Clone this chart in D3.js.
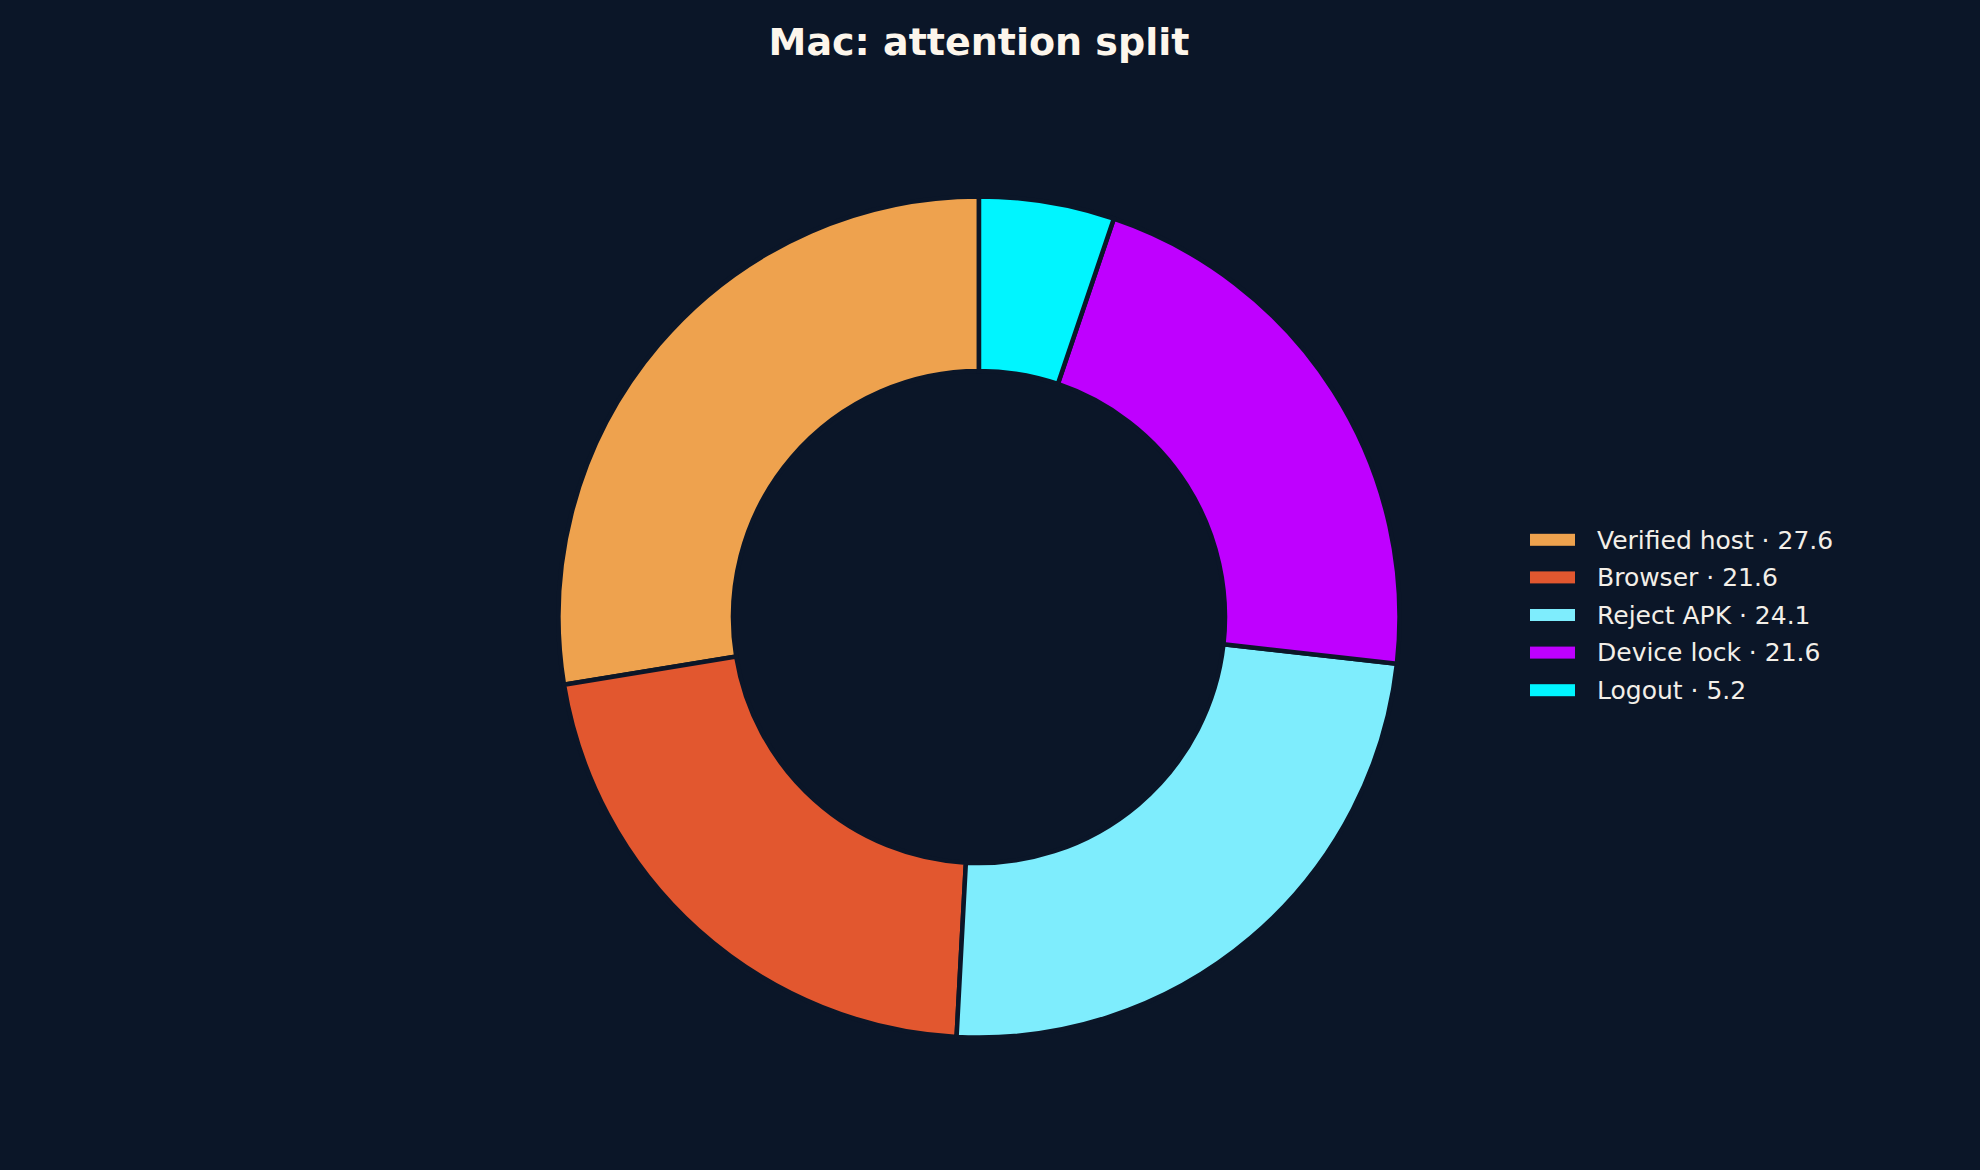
<!DOCTYPE html>
<html><head><meta charset="utf-8">
<script src="https://cdn.jsdelivr.net/npm/d3@7"></script>
<style>html,body{margin:0;padding:0;background:#0b1628;}svg{display:block;}</style>
</head><body>
<script>
const categories = ["Verified host", "Browser", "Reject APK", "Device lock", "Logout"];
const values = [27.6, 21.6, 24.1, 21.6, 5.2];
const colors = ["#eea24e", "#e2572f", "#7eedfd", "#bf00ff", "#00f5ff"];
const title = "Mac: attention split";

const W = 1980, H = 1170;
const svg = d3.select("body").append("svg").attr("width", W).attr("height", H);
svg.append("rect").attr("width", W).attr("height", H).attr("fill", "#0b1628");

svg.append("text").attr("x", 979).attr("y", 55).attr("text-anchor", "middle")
  .attr("font-family", "DejaVu Sans").attr("font-weight", "bold").attr("font-size", 38)
  .attr("fill", "#fdf6ec").text(title);

const cx = 979, cy = 617, R = 420.5, r = 246;
const data = categories.map((c, i) => ({c, v: values[i], col: colors[i]}));
const pie = d3.pie().value(d => d.v).sort(null).startAngle(0).endAngle(-2 * Math.PI);
const arc = d3.arc().innerRadius(r).outerRadius(R);
const g = svg.append("g").attr("transform", `translate(${cx},${cy})`);
g.selectAll("path").data(pie(data)).join("path")
  .attr("d", arc).attr("fill", d => d.data.col)
  .attr("stroke", "#0b1628").attr("stroke-width", 4.5).attr("stroke-linejoin", "miter");

const color = d3.scaleOrdinal().domain(categories).range(colors);
const y = d3.scaleBand().domain(categories).range([521, 709]);
const lg = svg.append("g");
const rows = lg.selectAll("g").data(data).join("g")
  .attr("transform", d => `translate(0,${y(d.c) + y.bandwidth() / 2})`);
rows.append("rect").attr("x", 1530).attr("y", -6).attr("width", 45).attr("height", 12)
  .attr("fill", d => color(d.c));
rows.append("text").attr("x", 1597).attr("y", 0).attr("dy", "0.35em")
  .attr("font-family", "DejaVu Sans").attr("font-size", 25).attr("fill", "#f3efe8")
  .text(d => `${d.c} · ${d.v}`);
</script>
</body></html>
